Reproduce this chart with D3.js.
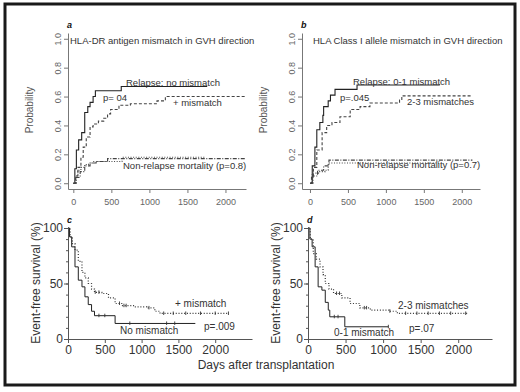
<!DOCTYPE html>
<html>
<head>
<meta charset="utf-8">
<script src="https://cdn.jsdelivr.net/npm/d3@7"></script>
<style>
  body { margin: 0; background: #fff; }
  svg { font-family: "Liberation Sans", Arial, sans-serif; }
</style>
</head>
<body>
<svg id="chart" width="520" height="392"></svg>
<script>
// ---- data ----
const dayTicks = [0, 500, 1000, 1500, 2000];
const probTicks = [0, 0.2, 0.4, 0.6, 0.8, 1.0];
const survTicks = [0, 50, 100];

// panel a: cumulative incidence, HLA-DR antigen mismatch
const relapseNoMmA = [[0,0],[20,0.1],[40,0.23],[70,0.3],[110,0.35],[150,0.49],[190,0.53],[220,0.56],[260,0.6],[290,0.64],[630,0.67],[1760,0.67]];
const relapseMmA = [[0,0],[30,0.05],[60,0.11],[100,0.18],[130,0.25],[170,0.32],[220,0.39],[260,0.41],[330,0.43],[400,0.45],[450,0.48],[490,0.51],[600,0.54],[750,0.55],[1100,0.57],[1210,0.6],[2260,0.6]];
const nrmNoMmA = [[0,0],[30,0.05],[60,0.09],[100,0.11],[150,0.13],[200,0.14],[260,0.15],[640,0.18],[1740,0.18]];
const nrmMmA = [[0,0],[40,0.04],[90,0.08],[150,0.12],[220,0.14],[300,0.15],[450,0.17],[2260,0.17]];

// panel b: cumulative incidence, HLA class I allele mismatch
const relapse01B = [[0,0],[30,0.12],[65,0.25],[90,0.37],[130,0.42],[170,0.47],[180,0.53],[240,0.57],[270,0.61],[330,0.65],[620,0.68],[1710,0.68]];
const relapse23B = [[0,0],[20,0.05],[45,0.11],[90,0.23],[160,0.35],[220,0.4],[290,0.42],[395,0.46],[530,0.51],[660,0.53],[790,0.555],[1180,0.575],[1210,0.605],[2140,0.605]];
const nrm01B = [[0,0],[30,0.07],[120,0.08],[200,0.09],[240,0.14],[1710,0.14]];
const nrm23B = [[0,0],[40,0.05],[100,0.09],[180,0.12],[250,0.16],[2140,0.16]];

// panel c: event-free survival (%), DR mismatch
const efsNoMmC = [[0,100],[20,92],[50,83],[95,65],[140,53],[190,47],[230,38],[275,31],[320,25],[360,21],[640,14],[1730,14]];
const efsMmC = [[0,100],[30,92],[60,86],[95,80],[140,70],[190,60],[230,55],[275,50],[320,45],[360,42],[460,41],[550,37],[640,32],[730,30],[890,29],[1070,28],[1180,25],[1250,23],[2180,23]];
const censNoMmC = [420, 500, 840, 1340, 1450];
const censMmC = [370, 420, 700, 760, 790, 1100, 1300, 1430, 1600, 1800, 2000, 2180];

// panel d: event-free survival (%), class I mismatch
const efs01D = [[0,100],[25,90],[55,83],[95,65],[135,47],[185,44],[230,33],[270,26],[290,20],[490,11],[1070,11]];
const efs23D = [[0,100],[30,90],[70,77],[110,72],[160,65],[200,58],[230,50],[280,45],[340,41],[450,37],[560,32],[690,28],[830,26],[1090,25],[1190,23],[2120,23]];
const cens01D = [350, 400, 1070];
const cens23D = [380, 420, 750, 780, 1090, 1300, 1450, 1600, 1750, 1900, 2100];

const svg = d3.select('#chart');

// outer frame
svg.append('rect')
    .attr('x', 5).attr('y', 4)
    .attr('width', 510).attr('height', 381)
    .attr('fill', 'none')
    .attr('stroke', '#1a1a1a')
    .attr('stroke-width', 3);

const styles = {
    solid:   { stroke: '#222', dash: null, width: 1.1 },
    dashed:  { stroke: '#444', dash: '3,2', width: 1.1 },
    dotted:  { stroke: '#444', dash: '1,1.6', width: 1.1 },
    dashdot: { stroke: '#444', dash: '4,1.5,1,1.5', width: 1.1 }
};

function stepLine(g, x, y, data, st) {
    const line = d3.line()
        .x(d => x(d[0]))
        .y(d => y(d[1]))
        .curve(d3.curveStepAfter);
    g.append('path')
        .datum(data)
        .attr('d', line)
        .attr('fill', 'none')
        .attr('stroke', st.stroke)
        .attr('stroke-width', st.width)
        .attr('stroke-dasharray', st.dash);
}

// value of a step curve at a given day
function valueAt(data, t) {
    let v = data[0][1];
    data.forEach(d => { if (d[0] <= t) v = d[1]; });
    return v;
}

function label(g, x, y, txt, size, opts) {
    const t = g.append('text')
        .attr('x', x).attr('y', y)
        .attr('font-size', size)
        .attr('fill', '#333')
        .text(txt);
    if (opts) Object.keys(opts).forEach(k => t.attr(k, opts[k]));
    return t;
}

// ---- probability panels (a, b) ----
function drawProb(cfg) {
    const g = svg.append('g');
    const x = d3.scaleLinear().domain(cfg.xDomain).range(cfg.xRange);
    const y = d3.scaleLinear().domain([-0.04, 1.04]).range([189, 33]);

    const xAxis = g.append('g')
        .attr('transform', 'translate(0,189)')
        .call(d3.axisBottom(x).tickValues(dayTicks).tickSize(4).tickPadding(6).tickSizeOuter(0)
            .tickFormat(d3.format('d')));
    const yAxis = g.append('g')
        .attr('transform', `translate(${cfg.xRange[0]},0)`)
        .call(d3.axisLeft(y).tickValues(probTicks).tickSize(4).tickSizeOuter(0)
            .tickFormat(d3.format('.1f')));
    [xAxis, yAxis].forEach(a => {
        a.selectAll('path, line').attr('stroke', '#777');
        a.selectAll('text').attr('fill', '#666').attr('font-size', 9)
            .attr('font-family', '"Liberation Sans", Arial, sans-serif');
    });
    yAxis.selectAll('text')
        .attr('x', 0).attr('dy', 0)
        .attr('text-anchor', 'middle')
        .attr('transform', 'translate(-7,0) rotate(-90)');

    cfg.series.forEach(s => stepLine(g, x, y, s.data, styles[s.style]));

    label(g, cfg.xRange[0] - 1, 28, cfg.letter, 9,
        { 'font-weight': 'bold', 'font-style': 'italic', 'fill': '#111' });
    label(g, cfg.titleX, 44, cfg.title, 9.5);
    label(g, cfg.xRange[0] - 35, 110, 'Probability', 10,
        { 'text-anchor': 'middle', 'fill': '#555',
          'transform': `rotate(-90,${cfg.xRange[0] - 35},110)` });
    cfg.notes.forEach(n => label(g, n[0], n[1], n[2], 9.5));
}

drawProb({
    letter: 'a',
    title: 'HLA-DR antigen mismatch in GVH direction',
    titleX: 70,
    xDomain: [-70, 2270], xRange: [68, 246],
    series: [
        { data: relapseNoMmA, style: 'solid' },
        { data: relapseMmA, style: 'dashed' },
        { data: nrmNoMmA, style: 'dotted' },
        { data: nrmMmA, style: 'dashdot' }
    ],
    notes: [
        [126, 86, 'Relapse: no mismatch'],
        [103, 101, 'p= 04'],
        [173, 106, '+ mismatch'],
        [123, 169, 'Non-relapse mortality (p=0.8)']
    ]
});

drawProb({
    letter: 'b',
    title: 'HLA Class I allele mismatch in GVH direction',
    titleX: 313,
    xDomain: [-105, 2240], xRange: [302, 480],
    series: [
        { data: relapse01B, style: 'solid' },
        { data: relapse23B, style: 'dashed' },
        { data: nrm01B, style: 'dotted' },
        { data: nrm23B, style: 'dashdot' }
    ],
    notes: [
        [353, 85, 'Relapse: 0-1 mismatch'],
        [340, 101, 'p=.045'],
        [407, 105, '2-3 mismatches'],
        [357, 168, 'Non-relapse mortality (p=0.7)']
    ]
});

// ---- survival panels (c, d) ----
function drawSurv(cfg) {
    const g = svg.append('g');
    const x = d3.scaleLinear().domain(cfg.xDomain).range(cfg.xRange);
    const y = d3.scaleLinear().domain([0, 100]).range([339, 228]);

    const xAxis = g.append('g')
        .attr('transform', 'translate(0,339)')
        .call(d3.axisBottom(x).tickValues(dayTicks).tickSize(4).tickPadding(2).tickSizeOuter(0)
            .tickFormat(d3.format('d')));
    const yAxis = g.append('g')
        .attr('transform', `translate(${cfg.xRange[0]},0)`)
        .call(d3.axisLeft(y).tickValues(survTicks).tickSize(4).tickPadding(1).tickSizeOuter(0));
    // minor ticks every 10%
    g.append('g')
        .attr('transform', `translate(${cfg.xRange[0]},0)`)
        .call(d3.axisLeft(y).tickValues(d3.range(10, 100, 10)).tickSize(2).tickFormat(''))
        .select('.domain').remove();
    g.selectAll('path, line').attr('stroke', '#555');
    [xAxis, yAxis].forEach(a => a.selectAll('text')
        .attr('fill', '#333').attr('font-size', 12)
        .attr('font-family', '"Liberation Sans", Arial, sans-serif'));

    cfg.series.forEach(s => {
        const st = s.style === 'solid'
            ? { stroke: '#222', dash: null, width: 1 }
            : { stroke: '#333', dash: '1,1.8', width: 1.2 };
        stepLine(g, x, y, s.data, st);
        g.selectAll(null)
            .data(s.cens)
            .enter().append('line')
            .attr('x1', d => x(d)).attr('x2', d => x(d))
            .attr('y1', d => y(valueAt(s.data, d)) - 2)
            .attr('y2', d => y(valueAt(s.data, d)) + 1.5)
            .attr('stroke', '#333')
            .attr('stroke-width', 0.9);
    });

    label(g, cfg.xRange[0] - 1, 223, cfg.letter, 9,
        { 'font-weight': 'bold', 'font-style': 'italic', 'fill': '#111' });
    label(g, cfg.xRange[0] - 28, 283, 'Event-free survival (%)', 12,
        { 'text-anchor': 'middle',
          'transform': `rotate(-90,${cfg.xRange[0] - 28},283)` });
    cfg.notes.forEach(n => label(g, n[0], n[1], n[2], 10));
}

drawSurv({
    letter: 'c',
    xDomain: [0, 2500], xRange: [68, 252],
    series: [
        { data: efsNoMmC, style: 'solid', cens: censNoMmC },
        { data: efsMmC, style: 'dotted', cens: censMmC }
    ],
    notes: [
        [175, 307, '+ mismatch'],
        [120, 334, 'No mismatch'],
        [204, 330, 'p=.009']
    ]
});

drawSurv({
    letter: 'd',
    xDomain: [0, 2450], xRange: [308, 492],
    series: [
        { data: efs01D, style: 'solid', cens: cens01D },
        { data: efs23D, style: 'dotted', cens: cens23D }
    ],
    notes: [
        [398, 309, '2-3 mismatches'],
        [334, 336, '0-1 mismatch'],
        [409, 332, 'p=.07']
    ]
});

label(svg, 266, 369, 'Days after transplantation', 12, { 'text-anchor': 'middle' });
</script>
</body>
</html>
